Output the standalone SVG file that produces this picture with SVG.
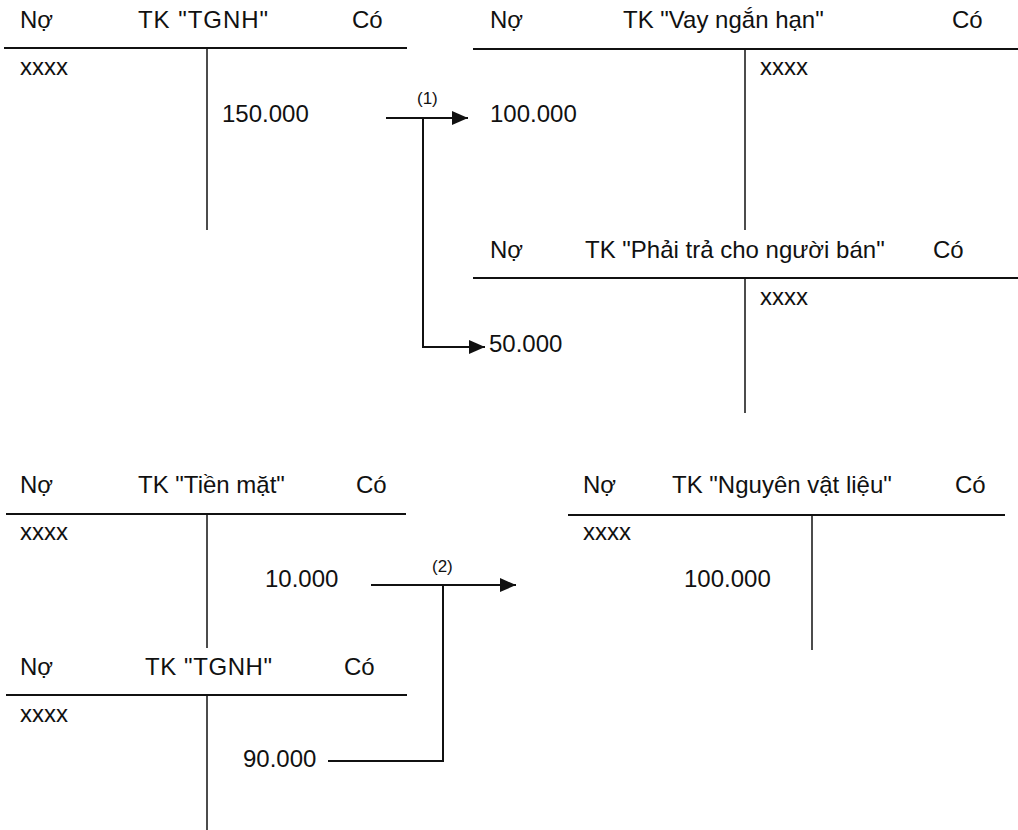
<svg xmlns="http://www.w3.org/2000/svg" width="1018" height="830" viewBox="0 0 1018 830">
  <style>
    text { font-family: "Liberation Sans", Arial, sans-serif; font-size: 24px; fill: #111; }
    .lbl { font-size: 17px; }
    .rule { stroke: #111; stroke-width: 2; fill: none; }
    .stem { stroke: #111; stroke-width: 1.5; fill: none; }
    .flow { stroke: #111; stroke-width: 2; fill: none; }
  </style>
  <defs>
    <marker id="arrow" markerUnits="userSpaceOnUse" markerWidth="16" markerHeight="14" refX="16" refY="7" orient="auto">
      <path d="M0,0 L16,7 L0,14 Z" fill="#111"/>
    </marker>
  </defs>
  <rect width="1018" height="830" fill="#fff"/>

  <!-- T-account: TGNH (top) -->
  <g id="tk-tgnh-1">
    <text x="20" y="28">Nợ</text>
    <text x="138" y="28" textLength="130">TK "TGNH"</text>
    <text x="352" y="28">Có</text>
    <line class="rule" x1="4" y1="48" x2="407" y2="48"/>
    <line class="stem" x1="207" y1="48" x2="207" y2="230"/>
    <text x="20" y="75">xxxx</text>
    <text x="222" y="122">150.000</text>
  </g>

  <!-- T-account: Vay ngắn hạn -->
  <g id="tk-vay-ngan-han">
    <text x="490" y="28">Nợ</text>
    <text x="623" y="28">TK "Vay ngắn hạn"</text>
    <text x="952" y="28">Có</text>
    <line class="rule" x1="473" y1="49" x2="1018" y2="49"/>
    <line class="stem" x1="745" y1="49" x2="745" y2="230"/>
    <text x="760" y="75">xxxx</text>
    <text x="490" y="122">100.000</text>
  </g>

  <!-- T-account: Phải trả cho người bán -->
  <g id="tk-phai-tra">
    <text x="490" y="258">Nợ</text>
    <text x="585" y="258">TK "Phải trả cho người bán"</text>
    <text x="933" y="258">Có</text>
    <line class="rule" x1="473" y1="278" x2="1018" y2="278"/>
    <line class="stem" x1="745" y1="278" x2="745" y2="413"/>
    <text x="760" y="305">xxxx</text>
    <text x="489" y="352">50.000</text>
  </g>

  <!-- T-account: Tiền mặt -->
  <g id="tk-tien-mat">
    <text x="20" y="493">Nợ</text>
    <text x="138" y="493">TK "Tiền mặt"</text>
    <text x="356" y="493">Có</text>
    <line class="rule" x1="6" y1="514" x2="406" y2="514"/>
    <line class="stem" x1="207" y1="514" x2="207" y2="648"/>
    <text x="20" y="540">xxxx</text>
    <text x="265" y="587">10.000</text>
  </g>

  <!-- T-account: TGNH (bottom) -->
  <g id="tk-tgnh-2">
    <text x="20" y="675">Nợ</text>
    <text x="145" y="675" textLength="127">TK "TGNH"</text>
    <text x="344" y="675">Có</text>
    <line class="rule" x1="6" y1="695" x2="407" y2="695"/>
    <line class="stem" x1="207" y1="695" x2="207" y2="830"/>
    <text x="20" y="722">xxxx</text>
    <text x="243" y="767">90.000</text>
  </g>

  <!-- T-account: Nguyên vật liệu -->
  <g id="tk-nguyen-vat-lieu">
    <text x="583" y="493">Nợ</text>
    <text x="672" y="493">TK "Nguyên vật liệu"</text>
    <text x="955" y="493">Có</text>
    <line class="rule" x1="568" y1="515" x2="1005" y2="515"/>
    <line class="stem" x1="812" y1="515" x2="812" y2="650"/>
    <text x="583" y="540">xxxx</text>
    <text x="684" y="587">100.000</text>
  </g>

  <!-- Posting connectors -->
  <g id="connectors">
    <text class="lbl" x="417" y="104">(1)</text>
    <line class="flow" x1="386" y1="118" x2="468" y2="118" marker-end="url(#arrow)"/>
    <polyline class="flow" points="423,118 423,347 485,347" marker-end="url(#arrow)"/>

    <text class="lbl" x="432" y="572">(2)</text>
    <line class="flow" x1="371" y1="585" x2="516" y2="585" marker-end="url(#arrow)"/>
    <polyline class="flow" points="328,761 443,761 443,585"/>
  </g>
</svg>
